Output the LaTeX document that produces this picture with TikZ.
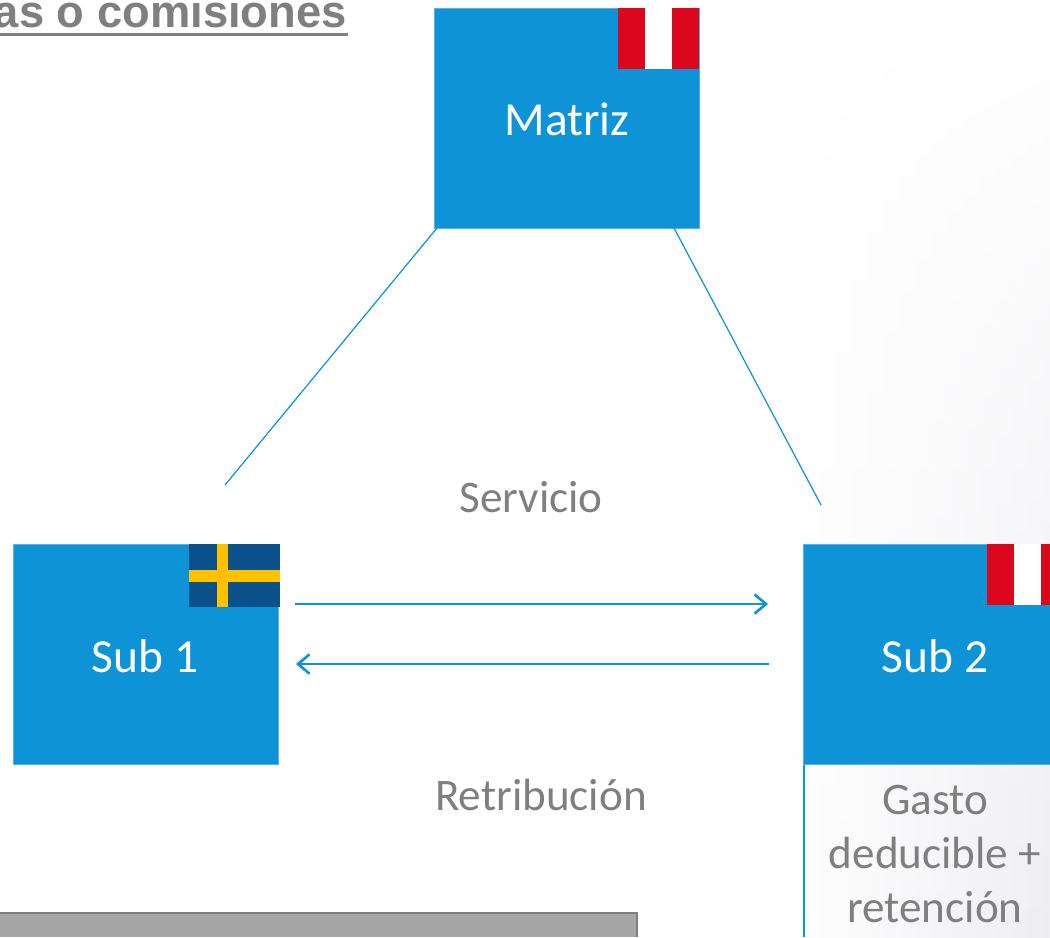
\documentclass[tikz,border=0pt]{standalone}
\usepackage{fontspec}
\setmainfont{Carlito}
\newfontfamily\headfont{Liberation Sans}
\usetikzlibrary{arrows.meta,fadings}
\definecolor{boxblue}{HTML}{0F93D7}
\definecolor{textgray}{HTML}{7F7F7F}
\definecolor{flagred}{HTML}{DC071D}
\definecolor{flagblue}{HTML}{0B528C}
\definecolor{flagyellow}{HTML}{FFC000}
\definecolor{bandgray}{HTML}{A6A6A6}
\definecolor{bandline}{HTML}{7F7F7F}
\definecolor{backgray}{HTML}{EEEEF2}
\tikzset{
    x=0.02cm,y=-0.02cm,
    >={Straight Barb[length=6.5pt,width=11pt]},
    company/.style={fill=boxblue,draw=boxblue!70!white,line width=0.5pt,minimum width=5.3cm,minimum height=4.4cm,inner sep=0pt},
    companytext/.style={text=white,inner sep=0pt,font=\fontsize{27}{27}\selectfont},
    caption/.style={text=textgray,inner sep=0pt,font=\fontsize{25.7}{25.7}\selectfont},
    link/.style={draw=boxblue,line width=0.7pt},
    flow/.style={draw=boxblue,line width=1.5pt,->}
}
\begin{document}
\begin{tikzpicture}
    \useasboundingbox (0,0) rectangle (1050,937);

    % Fondo
    \shade[left color=white,right color=backgray,path fading=north] (780,0) rectangle (1050,937);

    % Titulo
    \node[anchor=base east,inner sep=0pt,text=textgray,font=\headfont\bfseries\fontsize{25.8}{25.8}\selectfont] (title) at (347,27) {as o comisiones};
    \fill[textgray] (-2,33) rectangle (348,36);

    % Cajas
    \node[company,anchor=north west] (matriz) at (434,8) {};
    \node[company,anchor=north west] (subone) at (13,544) {};
    \node[company,anchor=north west] (subtwo) at (803,544) {};
    \node[companytext] (matriztext) at (567,119) {Matriz};
    \node[companytext] (subonetext) at (145,656) {Sub 1};
    \node[companytext] (subtwotext) at (935,656) {Sub 2};

    % Banderas
    \fill[flagred] (618,8) rectangle (699,69);
    \fill[white] (645,8) rectangle (672,69);
    \fill[flagblue] (189,544) rectangle (280,607);
    \fill[flagyellow] (189,570) rectangle (280,582);
    \fill[flagyellow] (217,544) rectangle (228,607);
    \fill[flagred] (987,544) rectangle (1050,605);
    \fill[white] (1014,544) rectangle (1041,605);

    % Lineas
    \coordinate (subonetop) at (225,485);
    \coordinate (subtwotop) at (821,505);
    \coordinate (matrizleft) at (437,228);
    \coordinate (matrizright) at (674,228);
    \draw[link] (matrizleft) -- (subonetop);
    \draw[link] (matrizright) -- (subtwotop);

    % Flechas
    \coordinate (servstart) at (295,604);
    \coordinate (servend) at (768,604);
    \coordinate (retstart) at (769,664);
    \coordinate (retend) at (296,664);
    \draw[flow] (servstart) -- (servend);
    \draw[flow] (retstart) -- (retend);

    % Textos
    \node[caption] (servicio) at (531,497) {Servicio};
    \node[caption] (retribucion) at (541,795) {Retribución};
    \node[caption,align=center,font=\fontsize{25.7}{30.7}\selectfont] (gasto) at (935,854) {Gasto\\deducible +\\retención};

    % Caja inferior
    \draw[boxblue,line width=1.2pt] (804,765) -- (804,937);
    \fill[bandgray] (0,912) rectangle (637,937);
    \draw[bandline,line width=1.2pt] (0,913) -- (637,913) -- (637,937);
\end{tikzpicture}
\end{document}
